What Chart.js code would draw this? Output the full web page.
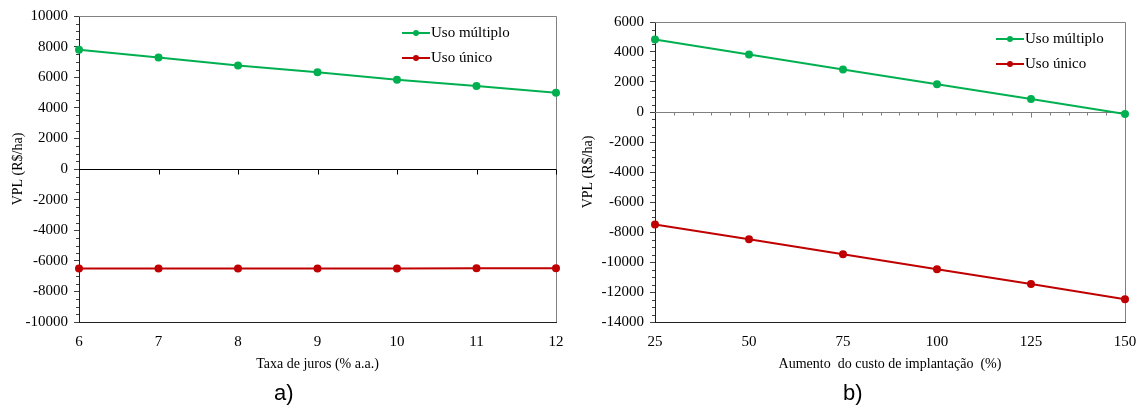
<!DOCTYPE html>
<html>
<head>
<meta charset="utf-8">
<script src="https://cdn.jsdelivr.net/npm/chart.js@4"></script>
<style>
  body { margin: 0; background: #fff; width: 1141px; height: 410px; position: relative; overflow: hidden; }
  .box { position: absolute; top: 0; height: 410px; }
  .tag { position: absolute; top: 380px; font: 22px "Liberation Sans", Arial, sans-serif; color: #000; }
</style>
</head>
<body>
<div class="box" style="left:0;width:570px"><canvas id="chartA"></canvas></div>
<div class="box" style="left:570px;width:571px"><canvas id="chartB"></canvas></div>
<div class="tag" style="left:274px">a)</div>
<div class="tag" style="left:843px">b)</div>
<script>
// a) taxa de juros
const jurosX = [6, 7, 8, 9, 10, 11, 12];
const multiploA = [7800, 7280, 6770, 6330, 5840, 5420, 4990];
const unicoA = [-6500, -6500, -6500, -6500, -6500, -6480, -6480];

// b) aumento do custo de implantação
const custoX = [25, 50, 75, 100, 125, 150];
const multiploB = [4830, 3830, 2840, 1850, 860, -140];
const unicoB = [-7500, -8480, -9480, -10490, -11470, -12480];

const seriesNames = ['Uso múltiplo', 'Uso único'];
const GREEN = 'rgb(0,176,80)';
const RED = 'rgb(192,0,0)';
const SERIF = '"Liberation Serif", "Times New Roman", serif';

function toPoints(xs, ys) {
    return xs.map((x, i) => ({x, y: ys[i]}));
}

// frame, zero line with ticks, minor y ticks and the legend inside the plot
const framePlugin = {
    id: 'frame',
    beforeDatasetsDraw(chart, args, opts) {
        const {ctx, chartArea: a, scales: {x, y}} = chart;
        ctx.save();
        ctx.lineWidth = 1;
        ctx.strokeStyle = '#808080';
        ctx.beginPath();
        ctx.moveTo(a.left, a.top + 0.5);
        ctx.lineTo(a.right + 0.5, a.top + 0.5);
        ctx.lineTo(a.right + 0.5, a.bottom);
        ctx.stroke();

        const y0 = Math.round(y.getPixelForValue(0)) + 0.5;
        ctx.strokeStyle = opts.zeroColor;
        ctx.beginPath();
        ctx.moveTo(a.left, y0);
        ctx.lineTo(a.right, y0);
        for (let v = x.min + opts.minorX; v < x.max + 0.001; v += opts.minorX) {
            const px = Math.round(x.getPixelForValue(v)) + 0.5;
            const len = ((v - x.min) % opts.majorX === 0) ? 5 : 3;
            ctx.moveTo(px, y0);
            ctx.lineTo(px, y0 + len);
        }
        ctx.stroke();

        ctx.strokeStyle = '#404040';
        ctx.beginPath();
        for (let v = y.min; v <= y.max; v += 500) {
            if (v % 2000 === 0) continue;
            const py = Math.round(y.getPixelForValue(v)) + 0.5;
            ctx.moveTo(a.left - 3, py);
            ctx.lineTo(a.left, py);
        }
        ctx.stroke();
        ctx.restore();
    },
    afterDraw(chart, args, opts) {
        const {ctx, chartArea: a} = chart;
        ctx.save();
        chart.data.datasets.forEach((ds, i) => {
            const lx = a.right - opts.legendRight;
            const ly = a.top + 17 + i * 25;
            ctx.strokeStyle = ds.borderColor;
            ctx.lineWidth = 2;
            ctx.beginPath();
            ctx.moveTo(lx, ly);
            ctx.lineTo(lx + 28, ly);
            ctx.stroke();
            ctx.fillStyle = ds.borderColor;
            ctx.beginPath();
            ctx.arc(lx + 14, ly, 3, 0, Math.PI * 2);
            ctx.fill();
            ctx.fillStyle = '#000';
            ctx.font = '15px ' + SERIF;
            ctx.textBaseline = 'middle';
            ctx.fillText(ds.label, lx + 29, ly);
        });
        ctx.restore();
    }
};

function makeChart(id, xs, green, red, cfg) {
    const dataset = (label, ys, color) => ({
        label,
        data: toPoints(xs, ys),
        borderColor: color,
        backgroundColor: color,
        borderWidth: 2,
        pointRadius: 3,
        pointHoverRadius: 3,
        tension: 0
    });
    return new Chart(document.getElementById(id), {
        type: 'line',
        data: {
            datasets: [
                dataset(seriesNames[0], green, GREEN),
                dataset(seriesNames[1], red, RED)
            ]
        },
        options: {
            responsive: false,
            animation: false,
            events: [],
            clip: false,
            layout: {padding: {left: 6, top: cfg.top, right: cfg.right, bottom: 33}},
            plugins: {
                legend: {display: false},
                tooltip: {enabled: false},
                frame: cfg.frame
            },
            scales: {
                x: {
                    type: 'linear',
                    min: xs[0],
                    max: xs[xs.length - 1],
                    grid: {display: false},
                    border: {display: true, color: '#202020', width: 1},
                    ticks: {stepSize: cfg.xStep, padding: 3, color: '#000', font: {family: SERIF, size: 15}},
                    title: {display: true, text: cfg.xTitle, color: '#000', font: {family: SERIF, size: 14}, padding: {top: 4, bottom: 4}},
                    afterFit: s => { s.height = 55; }
                },
                y: {
                    min: cfg.yMin,
                    max: cfg.yMax,
                    grid: {drawOnChartArea: false, drawTicks: true, tickLength: 5, color: '#404040'},
                    border: {display: true, color: '#202020', width: 1},
                    ticks: {stepSize: 2000, padding: 6, color: '#000', font: {family: SERIF, size: 15}, callback: v => String(v)},
                    title: {display: true, text: 'VPL (R$/ha)', color: '#000', font: {family: SERIF, size: 14}, padding: {top: 4, bottom: 4}},
                    afterFit: s => { s.width = cfg.yWidth; }
                }
            }
        },
        plugins: [framePlugin]
    });
}

const canvA = document.getElementById('chartA');
canvA.width = 570; canvA.height = 410;
const canvB = document.getElementById('chartB');
canvB.width = 571; canvB.height = 410;

makeChart('chartA', jurosX, multiploA, unicoA, {
    top: 16, right: 14, yWidth: 73, yMin: -10000, yMax: 10000, xStep: 1,
    xTitle: 'Taxa de juros (% a.a.)',
    frame: {zeroColor: '#000', minorX: 1, majorX: 1, legendRight: 154}
});

makeChart('chartB', custoX, multiploB, unicoB, {
    top: 22, right: 16, yWidth: 79, yMin: -14000, yMax: 6000, xStep: 25,
    xTitle: 'Aumento  do custo de implantação  (%)',
    frame: {zeroColor: '#7f7f7f', minorX: 5, majorX: 25, legendRight: 129}
});
</script>
</body>
</html>
